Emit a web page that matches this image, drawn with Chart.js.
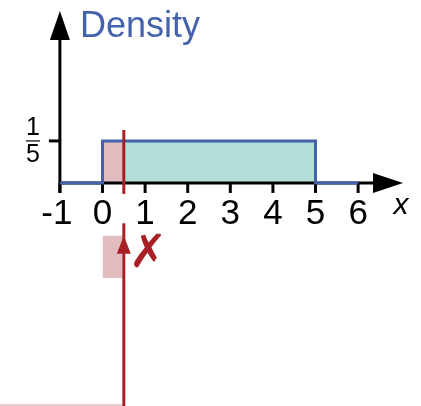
<!DOCTYPE html>
<html>
<head>
<meta charset="utf-8">
<script src="https://cdn.jsdelivr.net/npm/chart.js@4/dist/chart.umd.min.js"></script>
<style>
  body { margin: 0; background: #fff; }
  canvas { display: block; }
</style>
</head>
<body>
<canvas id="chart" width="421" height="406"></canvas>
<script>
// data
const xTicks = [-1, 0, 1, 2, 3, 4, 5, 6];
const densityX = [-1, 0, 0, 5, 5, 6];
const densityY = [0, 0, 0.2, 0.2, 0, 0];
const lowerX = [0, 0, 0.5, 0.5];          // shaded P(X <= 0.5)
const lowerY = [0, 0.2, 0.2, 0];
const upperX = [0.5, 0.5, 5, 5];
const upperY = [0, 0.2, 0.2, 0];
const cutX = [0.5, 0.5];
const cutY = [-0.052, 0.252];
const arrowX = [0.5, 0.5];
const arrowY = [-1.2, -0.252];
const boxX = [0, 0.47];
const boxTop = -0.252;
const boxBottom = -0.452;
const bottomX = [-2.5, 0.46];
const bottomY = [-1.057, -1.057];
const fracLabel = ["1", "5"];
const fracValue = 0.2;

const blue = "rgb(68, 99, 172)";
const red = "rgb(168, 32, 38)";
const pink = "rgb(225, 189, 191)";
const teal = "rgb(178, 224, 217)";

const pts = (xs, ys) => xs.map((x, i) => ({ x: x, y: ys[i] }));

// axes + arrows, drawn just before the density line
const axesPlugin = {
  id: "axes",
  beforeDatasetDraw(chart, args) {
    if (args.index !== 1) return;
    const c = chart.ctx, sx = chart.scales.x, sy = chart.scales.y;
    const x0 = sx.getPixelForValue(-1), y0 = sy.getPixelForValue(0);
    c.save();
    c.strokeStyle = "#000";
    c.fillStyle = "#000";
    c.lineWidth = 3;
    // y axis
    c.beginPath();
    c.moveTo(x0, y0 + 10);
    c.lineTo(x0, 36);
    c.stroke();
    c.beginPath();
    c.moveTo(x0, 11);
    c.lineTo(x0 - 10, 40);
    c.lineTo(x0 + 10, 40);
    c.closePath();
    c.fill();
    // x axis
    c.beginPath();
    c.moveTo(x0, y0);
    c.lineTo(376, y0);
    c.stroke();
    c.beginPath();
    c.moveTo(403, y0);
    c.lineTo(373, y0 - 10);
    c.lineTo(373, y0 + 10);
    c.closePath();
    c.fill();
    // ticks
    c.font = "35px 'Liberation Sans'";
    c.textAlign = "center";
    c.textBaseline = "middle";
    xTicks.forEach(v => {
      const px = sx.getPixelForValue(v);
      c.beginPath();
      c.moveTo(px, y0);
      c.lineTo(px, y0 + 10);
      c.stroke();
      c.fillText(String(v), px - (v < 0 ? 3 : 0), y0 + 31);
    });
    c.font = "italic 30px 'Liberation Sans'";
    c.fillText("x", 401, 206);
    // y tick 1/5
    const py = sy.getPixelForValue(fracValue);
    c.beginPath();
    c.moveTo(x0 - 11, py);
    c.lineTo(x0, py);
    c.stroke();
    c.font = "25px 'Liberation Sans'";
    c.fillText(fracLabel[0], 33, py - 13);
    c.fillText(fracLabel[1], 33, py + 14);
    c.lineWidth = 1.2;
    c.beginPath();
    c.moveTo(26, py);
    c.lineTo(40, py);
    c.stroke();
    // title
    c.fillStyle = blue;
    c.font = "36px 'Liberation Sans'";
    c.textAlign = "left";
    c.textBaseline = "alphabetic";
    c.fillText("Density", 80, 37);
    c.restore();
  },
  afterDatasetsDraw(chart) {
    const c = chart.ctx, sx = chart.scales.x, sy = chart.scales.y;
    const ax = sx.getPixelForValue(arrowX[1]), ay = sy.getPixelForValue(arrowY[1]);
    c.save();
    c.fillStyle = red;
    c.beginPath();
    c.moveTo(ax, ay);
    c.lineTo(ax - 7, ay + 18);
    c.lineTo(ax + 7, ay + 18);
    c.closePath();
    c.fill();
    c.font = "bold 46px 'DejaVu Sans'";
    c.textAlign = "center";
    c.textBaseline = "middle";
    c.fillText("\u2717", sx.getPixelForValue(1.07), sy.getPixelForValue(-0.343));
    c.restore();
  }
};

new Chart(document.getElementById("chart").getContext("2d"), {
  type: "line",
  data: {
    datasets: [
      { data: pts(cutX, cutY), borderColor: red, borderWidth: 3, pointRadius: 0 },
      { data: pts(densityX, densityY), borderColor: blue, borderWidth: 3, pointRadius: 0 },
      { data: pts(upperX, upperY), borderWidth: 0, pointRadius: 0, backgroundColor: teal, fill: "origin" },
      { data: pts(lowerX, lowerY), borderWidth: 0, pointRadius: 0, backgroundColor: pink, fill: "origin" },
      { data: pts(arrowX, [arrowY[0], arrowY[1] + 0.06]), borderColor: red, borderWidth: 3, pointRadius: 0 },
      { data: pts(boxX, [boxTop, boxTop]), borderWidth: 0, pointRadius: 0, backgroundColor: pink, fill: { value: boxBottom } },
      { data: pts(bottomX, bottomY), borderColor: pink, borderWidth: 1.5, pointRadius: 0 }
    ]
  },
  options: {
    responsive: false,
    animation: false,
    layout: { padding: 0 },
    plugins: { legend: { display: false }, tooltip: { enabled: false } },
    scales: {
      x: { type: "linear", display: false, min: -2.406, max: 7.476 },
      y: { type: "linear", display: false, min: -1.062, max: 0.871 }
    }
  },
  plugins: [axesPlugin]
});
</script>
</body>
</html>
